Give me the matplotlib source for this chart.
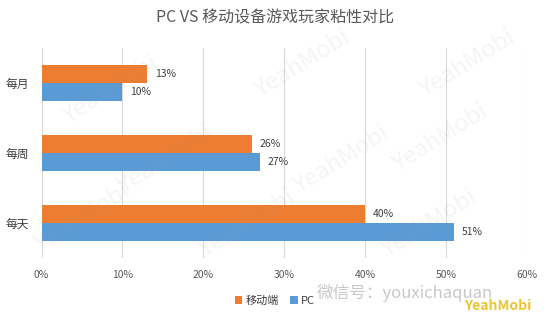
import matplotlib
matplotlib.use("Agg")
import matplotlib.pyplot as plt
import numpy as np

plt.rcParams['font.family'] = ['Noto Sans CJK SC', 'DejaVu Sans']

categories = ['每月', '每周', '每天']
mobile = [13, 26, 40]
pc = [10, 27, 51]
x_ticks = [0, 10, 20, 30, 40, 50, 60]

orange = '#ED7D31'
blue = '#5B9BD5'

fig = plt.figure(figsize=(5.5, 3.2), dpi=100)
ax = fig.add_axes([0.0755, 0.194, 0.8825, 0.656])

y = np.arange(len(categories))
h = 0.257
ax.barh(y - h / 2, mobile, height=h, color=orange, label='移动端', zorder=2)
ax.barh(y + h / 2, pc, height=h, color=blue, label='PC', zorder=2)

# data labels
for yi, v in zip(y - h / 2, mobile):
    ax.text(v + 1.0, yi, f'{v}%', va='center', ha='left', fontsize=7.5, color='#404040')
for yi, v in zip(y + h / 2, pc):
    ax.text(v + 1.0, yi, f'{v}%', va='center', ha='left', fontsize=7.5, color='#404040')

ax.set_xlim(0, 60)
ax.set_ylim(2.5, -0.5)
ax.set_xticks(x_ticks)
ax.set_xticklabels([f'{t}%' for t in x_ticks], fontsize=7.5, color='#595959')
ax.set_yticks(y)
ax.set_yticklabels(categories, fontsize=8.5, color='#404040')
ax.tick_params(length=0, pad=9)
ax.grid(axis='x', color='#d9d9d9', linewidth=0.8, zorder=0)
for s in ax.spines.values():
    s.set_visible(False)

fig.text(0.5, 0.945, 'PC VS 移动设备游戏玩家粘性对比', ha='center', va='center',
         fontsize=11.5, color='#595959')

leg = fig.legend(loc='center', bbox_to_anchor=(0.50, 0.06), ncol=2, frameon=False,
                 fontsize=8, handlelength=0.7, handleheight=0.7, handletextpad=0.3,
                 columnspacing=1.0)
for t in leg.get_texts():
    t.set_color('#404040')

# faint watermarks
for (wx, wy) in [(0.20, 0.72), (0.55, 0.80), (0.85, 0.80),
                 (0.80, 0.57), (0.30, 0.50), (0.62, 0.50), (0.15, 0.32),
                 (0.45, 0.30), (0.78, 0.30)]:
    fig.text(wx, wy, 'YeahMobi', rotation=32, ha='center', va='center',
             fontsize=17, color='#999999', alpha=0.10, zorder=5)

fig.text(0.575, 0.085, '微信号：youxichaquan', ha='left', va='center',
         fontsize=12, color='#c8c8c8')
fig.text(0.905, 0.045, 'YeahMobi', ha='center', va='center', fontsize=10,
         color='#e5b800', fontweight='bold', alpha=0.8)

fig.savefig('out.png', dpi=100)
